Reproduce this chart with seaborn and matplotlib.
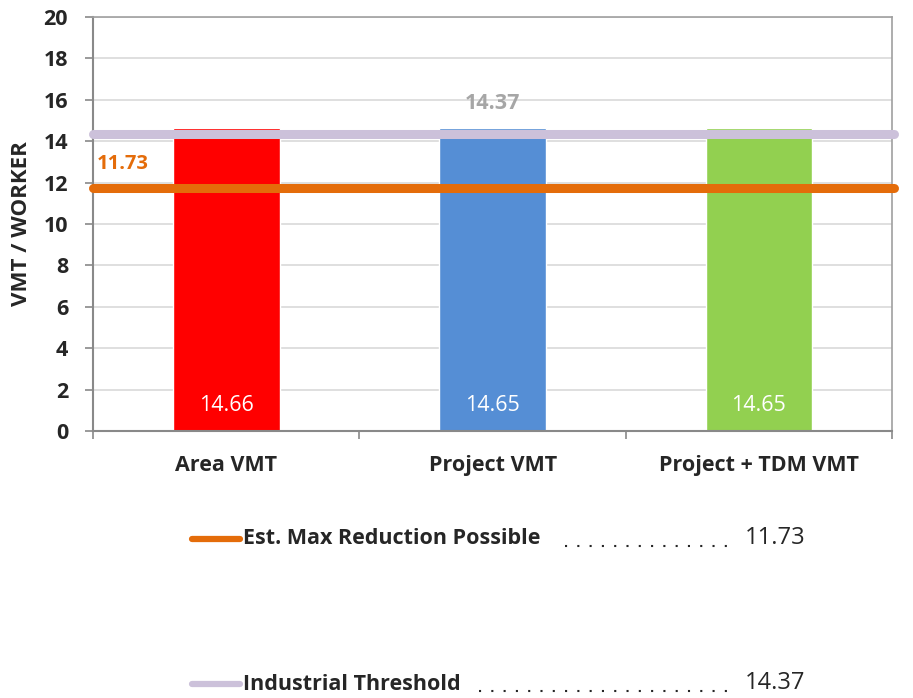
import matplotlib
matplotlib.use("Agg")
import matplotlib.pyplot as plt
import pandas as pd
import seaborn as sns
from matplotlib.lines import Line2D

# Data
categories = ["Area VMT", "Project VMT", "Project + TDM VMT"]
vmt_values = [14.66, 14.65, 14.65]
bar_colors = ["#FF0000", "#558ED5", "#92D050"]
threshold_names = ["Est. Max Reduction Possible", "Industrial Threshold"]
threshold_values = [11.73, 14.37]
threshold_colors = ["#E46C0A", "#CCC1DA"]
y_ticks = [0, 2, 4, 6, 8, 10, 12, 14, 16, 18, 20]

sns.set_style("white")
plt.rcParams["font.family"] = ["Open Sans", "DejaVu Sans"]

df = pd.DataFrame({"category": categories, "value": vmt_values})

fig = plt.figure(figsize=(9.13, 6.98), dpi=100)
ax = fig.add_axes([0.102, 0.3825, 0.875, 0.593])

sns.barplot(data=df, x="category", y="value", hue="category",
            palette=bar_colors, width=0.4, saturation=1, legend=False, ax=ax)

# white value labels near the bottom of each bar
for i, v in enumerate(vmt_values):
    ax.text(i, 1.25, f"{v:.2f}", color="white", fontsize=15.5,
            ha="center", va="center")

# threshold lines
for v, c in zip(threshold_values, threshold_colors):
    ax.axhline(v, xmin=0, xmax=1.002, color=c, linewidth=6.5,
               clip_on=False, zorder=3)

ax.text(-0.487, threshold_values[0] + 1.17, f"{threshold_values[0]:.2f}",
        color=threshold_colors[0], fontsize=14.5, fontweight="bold",
        ha="left", va="center")
ax.text(1, threshold_values[1] + 1.45, f"{threshold_values[1]:.2f}",
        color="#A6A6A6", fontsize=15.5, fontweight="bold",
        ha="center", va="center")

ax.set_ylim(0, 20)
ax.set_xlim(-0.5, 2.5)
ax.set_yticks(y_ticks)
ax.set_yticklabels([str(t) for t in y_ticks], fontsize=15.5, fontweight="bold")
ax.set_xticks(range(len(categories)))
ax.set_xticklabels(categories, fontsize=15.5, fontweight="bold")
ax.set_xticks([-0.5, 0.5, 1.5, 2.5], minor=True)
ax.tick_params(axis="x", which="major", length=0, pad=17)
ax.tick_params(axis="x", which="minor", length=6, color="#898989", width=1.2,
               direction="out", bottom=True)
ax.tick_params(axis="y", length=6, color="#898989", width=1.2,
               direction="out", left=True, pad=12)
ax.set_xlabel("")
ax.set_ylabel("VMT / WORKER", fontsize=16, fontweight="bold")
ax.yaxis.set_label_coords(-0.077, 0.5)

ax.grid(axis="y", color="#D9D9D9", linewidth=1.2)
ax.set_axisbelow(True)
for side in ["left", "bottom"]:
    ax.spines[side].set_color("#898989")
    ax.spines[side].set_linewidth(1.5)
for side in ["top", "right"]:
    ax.spines[side].set_color("#A0A0A0")
    ax.spines[side].set_linewidth(1.2)

# custom legend below the chart with dotted leaders
leg_y = [1 - 539 / 698, 1 - 684 / 698]
dot_start = [565 / 913, 479 / 913]
dot_end = 736 / 913
for name, v, c, y, ds in zip(threshold_names, threshold_values,
                             threshold_colors, leg_y, dot_start):
    fig.add_artist(Line2D([192 / 913, 240 / 913], [y, y], color=c,
                          linewidth=4.5, solid_capstyle="round",
                          transform=fig.transFigure))
    fig.text(243 / 913, y, name, fontsize=15.5, fontweight="bold",
             ha="left", va="center")
    fig.add_artist(Line2D([ds, dot_end], [y - 7 / 698, y - 7 / 698],
                          color="#262626", linewidth=1.5, dashes=(1, 4.9),
                          transform=fig.transFigure))
    fig.text(745 / 913, y + 0.002, f"{v:.2f}", fontsize=17,
             ha="left", va="center")

fig.savefig("out.png", dpi=100)
